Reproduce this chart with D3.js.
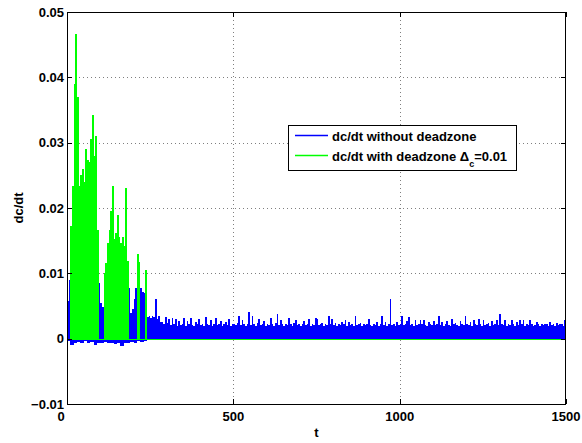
<!DOCTYPE html>
<html>
<head>
<meta charset="utf-8">
<script src="https://cdn.jsdelivr.net/npm/d3@7"></script>
<style>
body { margin: 0; background: #fff; }
text { font-family: "Liberation Sans", Arial, Helvetica, sans-serif; font-weight: bold; font-size: 13px; fill: #000; }
</style>
</head>
<body>
<div id="chart"></div>
<script>
// bin width in t units for the sampled envelopes
var binStep = 5;

// dc/dt without deadzone: max value in each 5-unit bin, t = 0 .. 1495
var blueHigh = [
	0.0058, 0.0090, 0.0086, 0.0084, 0.0080, 0.0085, 0.0082, 0.0086, 0.0079, 0.0083, 0.0085, 0.0081, 0.0084, 0.0080, 0.0086, 0.0082, 0.0084, 0.0080, 0.0083, 0.0085,
	0.0055, 0.0048, 0.0070, 0.0083, 0.0078, 0.0082, 0.0085, 0.0079, 0.0081, 0.0084, 0.0078, 0.0082, 0.0080, 0.0083, 0.0077, 0.0081, 0.0079, 0.0077, 0.0040, 0.0045,
	0.0060, 0.0078, 0.0090, 0.0072, 0.0078, 0.0072, 0.0070, 0.0035, 0.0033, 0.0035, 0.0031, 0.0035, 0.0033, 0.0060, 0.0030, 0.0034, 0.0026, 0.0025, 0.0022, 0.0033,
	0.0024, 0.0030, 0.0021, 0.0032, 0.0022, 0.0030, 0.0020, 0.0027, 0.0021, 0.0023, 0.0032, 0.0020, 0.0027, 0.0022, 0.0031, 0.0021, 0.0020, 0.0026, 0.0022, 0.0030,
	0.0021, 0.0023, 0.0020, 0.0033, 0.0022, 0.0021, 0.0028, 0.0020, 0.0023, 0.0031, 0.0021, 0.0022, 0.0027, 0.0020, 0.0022, 0.0025, 0.0021, 0.0030, 0.0020, 0.0022,
	0.0023, 0.0021, 0.0024, 0.0035, 0.0021, 0.0028, 0.0022, 0.0020, 0.0023, 0.0041, 0.0021, 0.0035, 0.0022, 0.0020, 0.0024, 0.0030, 0.0021, 0.0022, 0.0027, 0.0020,
	0.0023, 0.0021, 0.0031, 0.0022, 0.0020, 0.0024, 0.0037, 0.0021, 0.0028, 0.0022, 0.0020, 0.0023, 0.0021, 0.0032, 0.0022, 0.0020, 0.0024, 0.0029, 0.0021, 0.0022,
	0.0020, 0.0023, 0.0027, 0.0021, 0.0022, 0.0030, 0.0020, 0.0023, 0.0021, 0.0031, 0.0030, 0.0021, 0.0022, 0.0024, 0.0020, 0.0022, 0.0021, 0.0034, 0.0022, 0.0030,
	0.0021, 0.0024, 0.0020, 0.0022, 0.0021, 0.0026, 0.0022, 0.0028, 0.0020, 0.0025, 0.0021, 0.0022, 0.0020, 0.0035, 0.0021, 0.0023, 0.0024, 0.0020, 0.0022, 0.0021,
	0.0023, 0.0030, 0.0021, 0.0020, 0.0022, 0.0021, 0.0026, 0.0020, 0.0022, 0.0034, 0.0021, 0.0026, 0.0020, 0.0022, 0.0060, 0.0021, 0.0022, 0.0020, 0.0025, 0.0021,
	0.0022, 0.0035, 0.0021, 0.0023, 0.0027, 0.0033, 0.0021, 0.0022, 0.0020, 0.0028, 0.0021, 0.0023, 0.0029, 0.0022, 0.0028, 0.0021, 0.0020, 0.0026, 0.0022, 0.0021,
	0.0027, 0.0021, 0.0022, 0.0035, 0.0021, 0.0025, 0.0020, 0.0022, 0.0027, 0.0021, 0.0020, 0.0030, 0.0022, 0.0024, 0.0021, 0.0020, 0.0027, 0.0022, 0.0021, 0.0035,
	0.0022, 0.0021, 0.0025, 0.0020, 0.0029, 0.0022, 0.0021, 0.0030, 0.0022, 0.0020, 0.0028, 0.0021, 0.0022, 0.0024, 0.0020, 0.0027, 0.0021, 0.0022, 0.0029, 0.0021,
	0.0037, 0.0022, 0.0021, 0.0029, 0.0020, 0.0022, 0.0021, 0.0028, 0.0022, 0.0020, 0.0025, 0.0021, 0.0028, 0.0022, 0.0028, 0.0020, 0.0022, 0.0021, 0.0028, 0.0022,
	0.0020, 0.0021, 0.0025, 0.0022, 0.0020, 0.0023, 0.0021, 0.0022, 0.0023, 0.0020, 0.0025, 0.0021, 0.0022, 0.0020, 0.0024, 0.0021, 0.0023, 0.0022, 0.0020, 0.0028
];

// dc/dt without deadzone: min value in each 10-unit bin, t = 0 .. 290
var blueLow = [
	-0.0004, -0.0009, -0.0007, -0.0005, -0.0006, -0.0004, -0.0006, -0.0005, -0.0009, -0.0007,
	-0.0006, -0.0005, -0.0007, -0.0006, -0.0008, -0.0006, -0.0011, -0.0007, -0.0006, -0.0005,
	-0.0006, -0.0004, -0.0005, -0.0003, -0.0002, -0.0002, -0.0001, -0.0001, -0.0001, 0
];
var blueLowTail = -0.00005;

// dc/dt with deadzone: max value in each 5-unit bin, t = 0 .. 240 (zero afterwards)
var greenHigh = [
	0, 0, 0.0173, 0.0233, 0.0390, 0.0467, 0.0370, 0.0233, 0.0251, 0.0259,
	0.0240, 0.0290, 0.0274, 0.0271, 0.0306, 0.0343, 0.0279, 0.0310, 0.0167, 0,
	0, 0, 0.0101, 0.0116, 0.0147, 0.0167, 0.0195, 0.0234, 0.0152, 0.0162,
	0.0190, 0.0155, 0.0147, 0.0155, 0.0142, 0.0231, 0.0119, 0, 0, 0,
	0, 0, 0.0129, 0.0117, 0, 0, 0, 0.0105, 0
];

var xTicks = [0, 500, 1000, 1500];
var yTicks = [-0.01, 0, 0.01, 0.02, 0.03, 0.04, 0.05];
var yTickLabels = ["\u22120.01", "0", "0.01", "0.02", "0.03", "0.04", "0.05"];
var legendLabels = ["dc/dt without deadzone", "dc/dt with deadzone "];
var colors = ["#0000ff", "#00ff00"];

var width = 582, height = 443;
var pLeft = 67, pRight = 566, pTop = 12, pBottom = 404;

var svg = d3.select("#chart")
	.append("svg")
	.attr("width", width)
	.attr("height", height);

var x = d3.scaleLinear().domain([0, 1500]).range([pLeft, pRight]);
var y = d3.scaleLinear().domain([-0.01, 0.05]).range([pBottom, pTop]);

svg.append("defs").append("clipPath")
	.attr("id", "plot")
	.append("rect")
	.attr("x", pLeft).attr("y", pTop)
	.attr("width", pRight - pLeft).attr("height", pBottom - pTop);

// dotted grid
var grid = svg.append("g")
	.attr("stroke", "#7f7f7f")
	.attr("stroke-width", 1)
	.attr("stroke-dasharray", "1,3")
	.attr("shape-rendering", "crispEdges");

grid.selectAll(".gx")
	.data(xTicks.slice(1, -1))
	.enter()
	.append("line")
	.attr("x1", function (d) { return Math.round(x(d)) + 0.5; })
	.attr("x2", function (d) { return Math.round(x(d)) + 0.5; })
	.attr("y1", pTop)
	.attr("y2", pBottom);

grid.selectAll(".gy")
	.data(yTicks.slice(1, -1))
	.enter()
	.append("line")
	.attr("y1", function (d) { return Math.round(y(d)) + 0.5; })
	.attr("y2", function (d) { return Math.round(y(d)) + 0.5; })
	.attr("x1", pLeft)
	.attr("x2", pRight);

// series
var blueData = blueHigh.map(function (v, i) {
	var lo = i < blueLow.length * 2 ? blueLow[Math.floor(i / 2)] : blueLowTail;
	return { t: i * binStep, hi: v, lo: lo };
});
var lastBlue = blueData[blueData.length - 1];
blueData.push({ t: lastBlue.t + binStep, hi: lastBlue.hi, lo: lastBlue.lo });

var greenData = greenHigh.map(function (v, i) {
	return { t: i * binStep, hi: v };
});
greenData.push({ t: greenHigh.length * binStep, hi: 0 });

var plot = svg.append("g")
	.attr("clip-path", "url(#plot)")
	.attr("shape-rendering", "crispEdges");

var blueArea = d3.area()
	.curve(d3.curveStepAfter)
	.x(function (d) { return x(d.t); })
	.y0(function (d) { return y(d.lo); })
	.y1(function (d) { return y(d.hi); });

plot.append("path")
	.datum(blueData)
	.attr("d", blueArea)
	.attr("fill", colors[0]);

var greenArea = d3.area()
	.curve(d3.curveStepAfter)
	.x(function (d) { return x(d.t); })
	.y0(y(0))
	.y1(function (d) { return y(d.hi); });

plot.append("path")
	.datum(greenData)
	.attr("d", greenArea)
	.attr("fill", colors[1]);

// the with-deadzone signal sits at zero outside the bursts
plot.append("line")
	.attr("x1", x(0)).attr("x2", x(1500))
	.attr("y1", Math.round(y(0)) + 0.5).attr("y2", Math.round(y(0)) + 0.5)
	.attr("stroke", colors[1])
	.attr("stroke-width", 1);

// box and inward ticks
svg.append("rect")
	.attr("x", pLeft + 0.5).attr("y", pTop + 0.5)
	.attr("width", pRight - pLeft - 1).attr("height", pBottom - pTop)
	.attr("fill", "none")
	.attr("stroke", "#000")
	.attr("stroke-width", 1)
	.attr("shape-rendering", "crispEdges");

var ticks = svg.append("g")
	.attr("stroke", "#000")
	.attr("shape-rendering", "crispEdges");

xTicks.forEach(function (d) {
	var px = Math.round(x(d)) + 0.5;
	ticks.append("line").attr("x1", px).attr("x2", px).attr("y1", pBottom).attr("y2", pBottom - 5);
	ticks.append("line").attr("x1", px).attr("x2", px).attr("y1", pTop).attr("y2", pTop + 5);
});
yTicks.forEach(function (d) {
	var py = Math.round(y(d)) + 0.5;
	ticks.append("line").attr("y1", py).attr("y2", py).attr("x1", pLeft).attr("x2", pLeft + 5);
	ticks.append("line").attr("y1", py).attr("y2", py).attr("x1", pRight).attr("x2", pRight - 5);
});

// tick labels
svg.selectAll(".xlabel")
	.data(xTicks)
	.enter()
	.append("text")
	.attr("x", function (d, i) { return x(d) - (i === 0 ? 6 : 0); })
	.attr("y", 421)
	.attr("text-anchor", "middle")
	.text(function (d) { return d; });

svg.selectAll(".ylabel")
	.data(yTicks)
	.enter()
	.append("text")
	.attr("x", pLeft - 3)
	.attr("y", function (d) { return y(d); })
	.attr("dy", "0.36em")
	.attr("text-anchor", "end")
	.text(function (d, i) { return yTickLabels[i]; });

// axis titles
svg.append("text")
	.attr("x", (pLeft + pRight) / 2)
	.attr("y", 437)
	.attr("text-anchor", "middle")
	.text("t");

svg.append("text")
	.attr("transform", "translate(23," + ((pTop + pBottom) / 2) + ") rotate(-90)")
	.attr("text-anchor", "middle")
	.text("dc/dt");

// legend
var legend = svg.append("g");
legend.append("rect")
	.attr("x", 288.5).attr("y", 125.5)
	.attr("width", 228).attr("height", 45)
	.attr("fill", "#fff")
	.attr("stroke", "#000")
	.attr("stroke-width", 1)
	.attr("shape-rendering", "crispEdges");

legendLabels.forEach(function (label, i) {
	var ly = 135.5 + i * 20;
	legend.append("line")
		.attr("x1", 295).attr("x2", 328)
		.attr("y1", ly).attr("y2", ly)
		.attr("stroke", colors[i])
		.attr("stroke-width", 1.3);
	var t = legend.append("text")
		.attr("x", 332)
		.attr("y", ly + 5)
		.text(label);
	if (i === 1) {
		t.append("tspan").text("\u0394");
		t.append("tspan").attr("dy", 6).style("font-size", "9px").text("c");
		t.append("tspan").attr("dy", -6).text("=0.01");
	}
});
</script>
</body>
</html>
